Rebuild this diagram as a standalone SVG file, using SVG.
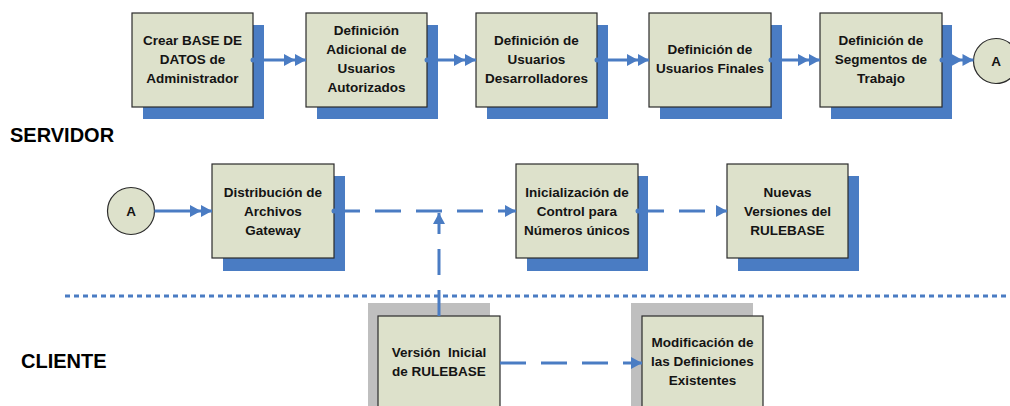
<svg xmlns="http://www.w3.org/2000/svg" width="1010" height="406" viewBox="0 0 1010 406">
<style>
.box{fill:#dde1cb;stroke:#2b2b2b;stroke-width:1.2}
.sh{fill:#4a7cc3}
.gs{fill:#bfbfbf}
.t{font-family:"Liberation Sans",Arial,sans-serif;font-weight:bold;font-size:13.5px;fill:#141414;text-anchor:middle}
.lbl{font-family:"Liberation Sans",Arial,sans-serif;font-weight:bold;font-size:20px;fill:#000}
.c{fill:none;stroke:#4a7cc3;stroke-width:3}
.d{stroke-dasharray:26 15}
</style>
<defs>
<marker id="dbl" markerUnits="userSpaceOnUse" markerWidth="24" markerHeight="14" refX="22" refY="6" orient="auto" viewBox="0 0 24 14">
<path d="M0,0 L11,6 L0,12 Z M11,0 L22,6 L11,12 Z" fill="#4a7cc3"/>
</marker>
<marker id="sgl" markerUnits="userSpaceOnUse" markerWidth="14" markerHeight="14" refX="11" refY="6" orient="auto" viewBox="0 0 14 14">
<path d="M0,0 L11,6 L0,12 Z" fill="#4a7cc3"/>
</marker>
<marker id="dot" markerUnits="userSpaceOnUse" markerWidth="8" markerHeight="8" refX="4" refY="4" viewBox="0 0 8 8">
<circle cx="4" cy="4" r="2.5" fill="#4a7cc3"/>
</marker>
</defs>
<rect width="1010" height="406" fill="#fff"/>

<text class="lbl" x="10" y="142">SERVIDOR</text>
<text class="lbl" x="21" y="368">CLIENTE</text>

<g id="n1">
<rect class="sh" x="143" y="25" width="121" height="94"/>
<rect class="box" x="132" y="13" width="121" height="94"/>
<text class="t" x="192.5" y="45">Crear BASE DE</text>
<text class="t" x="192.5" y="64">DATOS de</text>
<text class="t" x="192.5" y="83">Administrador</text>
</g>
<g id="n2">
<rect class="sh" x="317" y="25" width="121" height="94"/>
<rect class="box" x="306" y="13" width="121" height="94"/>
<text class="t" x="366.5" y="35">Definición</text>
<text class="t" x="366.5" y="54">Adicional de</text>
<text class="t" x="366.5" y="73">Usuarios</text>
<text class="t" x="366.5" y="92">Autorizados</text>
</g>
<g id="n3">
<rect class="sh" x="487" y="25" width="121" height="94"/>
<rect class="box" x="476" y="13" width="121" height="94"/>
<text class="t" x="536.5" y="45">Definición de</text>
<text class="t" x="536.5" y="64">Usuarios</text>
<text class="t" x="536.5" y="83">Desarrolladores</text>
</g>
<g id="n4">
<rect class="sh" x="660" y="25" width="122" height="94"/>
<rect class="box" x="649" y="13" width="122" height="94"/>
<text class="t" x="710" y="54">Definición de</text>
<text class="t" x="710" y="73">Usuarios Finales</text>
</g>
<g id="n5">
<rect class="sh" x="831" y="25" width="121" height="94"/>
<rect class="box" x="820" y="13" width="122" height="94"/>
<text class="t" x="881" y="45">Definición de</text>
<text class="t" x="881" y="64">Segmentos de</text>
<text class="t" x="881" y="83">Trabajo</text>
</g>
<g id="a1">
<circle class="box" cx="996" cy="61" r="22.5"/>
<text class="t" x="996" y="66">A</text>
</g>

<g id="a2">
<circle class="box" cx="131" cy="211" r="23.5"/>
<text class="t" x="131" y="216">A</text>
</g>
<g id="n6">
<rect class="sh" x="223" y="176" width="122" height="95"/>
<rect class="box" x="212" y="164" width="122" height="94"/>
<text class="t" x="273" y="197">Distribución de</text>
<text class="t" x="273" y="216">Archivos</text>
<text class="t" x="273" y="235">Gateway</text>
</g>
<g id="n7">
<rect class="sh" x="527" y="176" width="121" height="95"/>
<rect class="box" x="516" y="164" width="122" height="94"/>
<text class="t" x="577" y="197">Inicialización de</text>
<text class="t" x="577" y="216">Control para</text>
<text class="t" x="577" y="235">Números únicos</text>
</g>
<g id="n8">
<rect class="sh" x="738" y="176" width="121" height="95"/>
<rect class="box" x="727" y="164" width="121" height="94"/>
<text class="t" x="787.5" y="197">Nuevas</text>
<text class="t" x="787.5" y="216">Versiones del</text>
<text class="t" x="787.5" y="235">RULEBASE</text>
</g>

<g id="n9">
<rect class="gs" x="368" y="303" width="122" height="110"/>
<rect class="box" x="378" y="316" width="122" height="100"/>
<text class="t" x="439" y="357" xml:space="preserve">Versión  Inicial</text>
<text class="t" x="439" y="376">de RULEBASE</text>
</g>
<g id="n10">
<rect class="gs" x="631" y="303" width="122" height="110"/>
<rect class="box" x="642" y="316" width="121" height="100"/>
<text class="t" x="702.5" y="347">Modificación de</text>
<text class="t" x="702.5" y="366">las Definiciones</text>
<text class="t" x="702.5" y="385">Existentes</text>
</g>

<g id="connectors">
<line class="c" x1="253" y1="60" x2="306" y2="60" marker-start="url(#dot)" marker-end="url(#dbl)"/>
<line class="c" x1="427" y1="60" x2="476" y2="60" marker-start="url(#dot)" marker-end="url(#dbl)"/>
<line class="c" x1="597" y1="60" x2="649" y2="60" marker-start="url(#dot)" marker-end="url(#dbl)"/>
<line class="c" x1="771" y1="60" x2="820" y2="60" marker-start="url(#dot)" marker-end="url(#dbl)"/>
<line class="c" x1="942" y1="60" x2="973.5" y2="60" marker-start="url(#dot)" marker-end="url(#dbl)"/>
<line class="c" x1="154.5" y1="211" x2="212" y2="211" marker-end="url(#dbl)"/>
<line class="c d" x1="334" y1="211" x2="516" y2="211" marker-start="url(#dot)" marker-end="url(#sgl)"/>
<line class="c d" x1="638" y1="211" x2="727" y2="211" marker-start="url(#dot)" marker-end="url(#sgl)"/>
<line class="c d" x1="439" y1="316" x2="439" y2="213" marker-end="url(#sgl)"/>
<line class="c d" x1="500" y1="363" x2="642" y2="363" marker-end="url(#sgl)"/>
<line class="c" x1="65" y1="296" x2="1010" y2="296" stroke-dasharray="5 4"/>
</g>
</svg>
